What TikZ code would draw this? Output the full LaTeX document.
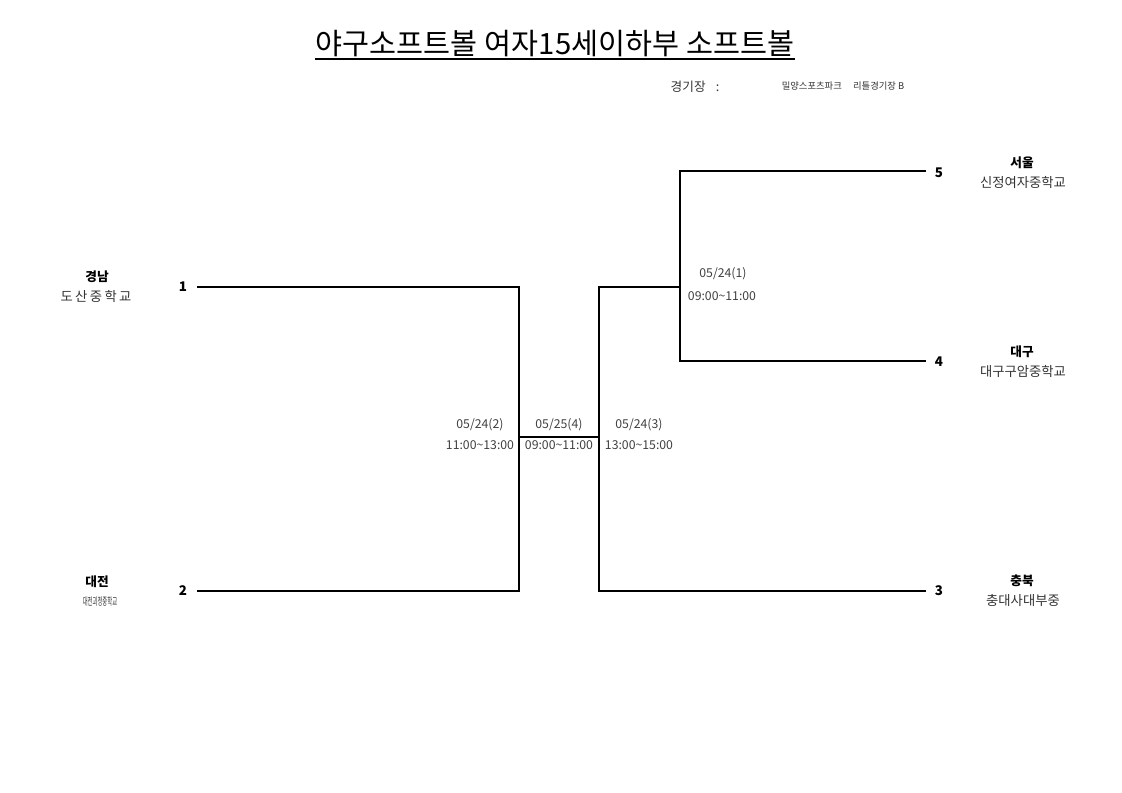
\documentclass[tikz,border=0pt]{standalone}
\usepackage{fontspec}
\setmainfont{Noto Sans CJK KR}
\begin{document}
\begin{tikzpicture}[x=0.75pt,y=-0.75pt,
   seed/.style={font=\bfseries\fontsize{10}{12}\selectfont},
   region/.style={font=\bfseries\fontsize{9.5}{11}\selectfont},
   school/.style={font=\fontsize{10}{12}\selectfont, text=black!80},
   game/.style={font=\fontsize{9.2}{11}\selectfont, text=black!75},
   bracket/.style={line width=0.8pt}]
   \useasboundingbox (0,0) rectangle (1122,793);
   % title and venue
   \node (title)[anchor=base, inner sep=0pt, font=\fontsize{22}{26}\selectfont] at (555,54) {야구소프트볼\hspace{0.25em}여자15세이하부\hspace{0.25em}소프트볼};
   \draw[line width=1.4pt] ([yshift=-4pt]title.base west) -- ([yshift=-4pt]title.base east);
   \node (venue)[font=\fontsize{9.5}{11}\selectfont, text=black!80] at (695,87) {경기장\hspace{0.8em}:};
   \node (venuename)[font=\fontsize{7}{8}\selectfont, text=black!80] at (843,86) {밀양스포츠파크\hspace{1.2em}리틀경기장 B};
   % teams
   \node (t1r)[region] at (97,277) {경남};
   \node (t1s)[school] at (96,296) {\addfontfeatures{LetterSpace=18}도산중학교};
   \node (t2r)[region] at (97,582) {대전};
   \node (t2s)[school] at (100,601) {\scalebox{0.5}[1]{\fontsize{8}{9}\selectfont 대전괴정중학교}};
   \node (t5r)[region] at (1022,163) {서울};
   \node (t5s)[school] at (1023,182) {신정여자중학교};
   \node (t4r)[region] at (1022,352) {대구};
   \node (t4s)[school] at (1023,371) {대구구암중학교};
   \node (t3r)[region] at (1022,581) {충북};
   \node (t3s)[school] at (1023,600) {충대사대부중};
   % seeds
   \node (s1)[seed] at (183,287) {1};
   \node (s2)[seed] at (183,591) {2};
   \node (s5)[seed] at (939,173) {5};
   \node (s4)[seed] at (939,362) {4};
   \node (s3)[seed] at (939,591) {3};
   % bracket
   \coordinate (l1) at (197,287);
   \coordinate (l2) at (197,591);
   \coordinate (j2) at (519,437);
   \coordinate (j3) at (599,437);
   \coordinate (j1) at (680,287);
   \coordinate (r5) at (926,171);
   \coordinate (r4) at (926,361);
   \coordinate (r3) at (926,591);
   \draw[bracket] (l1) -| (j2) |- (l2);
   \draw[bracket] (j2) -- (j3);
   \draw[bracket] (r3) -| (j3) |- (j1);
   \draw[bracket] (r5) -| (j1) |- (r4);
   % games
   \node (g2d)[game] at (480,425) {05/24(2)};
   \node (g2t)[game] at (480,445) {11:00\textasciitilde 13:00};
   \node (g4d)[game] at (559,425) {05/25(4)};
   \node (g4t)[game] at (559,445) {09:00\textasciitilde 11:00};
   \node (g3d)[game] at (639,425) {05/24(3)};
   \node (g3t)[game] at (639,445) {13:00\textasciitilde 15:00};
   \node (g1d)[game] at (723,274) {05/24(1)};
   \node (g1t)[game] at (722,296) {09:00\textasciitilde 11:00};
\end{tikzpicture}
\end{document}
